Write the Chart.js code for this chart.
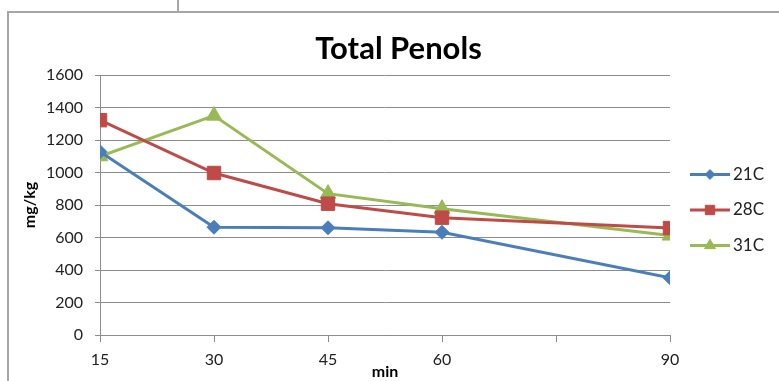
<!DOCTYPE html>
<html>
<head>
<meta charset="utf-8">
<script src="https://cdn.jsdelivr.net/npm/chart.js@4.4.1/dist/chart.umd.min.js"></script>
<style>
    body { margin: 0; background: #fff; }
    #wrap { position: relative; width: 779px; height: 381px; overflow: hidden; }
    #chart { position: absolute; left: 0; top: 0; }
    .frame { position: absolute; background: #a6a6a6; }
</style>
</head>
<body>
<div id="wrap">
    <div class="frame" style="left:7px; top:11px; width:2px; height:370px;"></div>
    <div class="frame" style="left:7px; top:11px; width:772px; height:2px;"></div>
    <div class="frame" style="left:177px; top:0; width:2px; height:12px;"></div>
    <canvas id="chart" width="779" height="381"></canvas>
</div>
<script>
// ข้อมูลที่อ่านจากกราฟ
const minutes = [15, 30, 45, 60, 90];
const seriesNames = ['21C', '28C', '31C'];
const values21 = [1128, 663, 660, 632, 352];
const values28 = [1322, 997, 808, 722, 658];
const values31 = [1100, 1350, 870, 777, 612];
const yTicks = [0, 200, 400, 600, 800, 1000, 1200, 1400, 1600];
const chartTitle = 'Total Penols';

const FONT = 'Lato, "Open Sans", sans-serif';

function toPoints(vals) {
    return minutes.map((m, i) => ({ x: m, y: vals[i] }));
}

// ชื่อกราฟ วางกลางทั้งภาพ (ไม่ใช่กลาง chart area)
const centerTitle = {
    id: 'centerTitle',
    afterDraw(chart) {
        const { ctx, width } = chart;
        ctx.save();
        ctx.fillStyle = '#000';
        ctx.font = 'bold 31px ' + FONT;
        ctx.textAlign = 'center';
        ctx.textBaseline = 'alphabetic';
        ctx.fillText(chartTitle, width / 2 + 9, 59);
        ctx.restore();
    }
};

// legend แบบ Excel: เส้น + marker
const lineLegend = {
    id: 'lineLegend',
    afterDraw(chart) {
        const { ctx, chartArea } = chart;
        const x0 = chartArea.right + 20;
        const x1 = x0 + 40;
        const midY = (chartArea.top + chartArea.bottom) / 2 + 5;
        ctx.save();
        chart.data.datasets.forEach((ds, i) => {
            const y = midY + (i - 1) * 35.5;
            ctx.strokeStyle = ds.borderColor;
            ctx.lineWidth = 3;
            ctx.beginPath();
            ctx.moveTo(x0, y);
            ctx.lineTo(x1, y);
            ctx.stroke();
            ctx.fillStyle = ds.backgroundColor;
            ctx.strokeStyle = ds.borderColor;
            ctx.lineWidth = 1;
            Chart.helpers.drawPoint(ctx, {
                pointStyle: ds.pointStyle,
                radius: ds.pointRadius * 0.7,
                rotation: 0,
                borderWidth: 1
            }, (x0 + x1) / 2, y);
            ctx.fillStyle = '#222';
            ctx.font = '17px ' + FONT;
            ctx.textAlign = 'left';
            ctx.textBaseline = 'middle';
            ctx.fillText(ds.label, x1 + 3, y);
        });
        ctx.restore();
    }
};

const colors = ['#4A7EBB', '#BE4B48', '#98B954'];
const styles = ['rectRot', 'rect', 'triangle'];
const radii = [7, 9.5, 9];
const allValues = [values21, values28, values31];

const ctx = document.getElementById('chart').getContext('2d');

new Chart(ctx, {
    type: 'line',
    data: {
        datasets: seriesNames.map((name, i) => ({
            label: name,
            data: toPoints(allValues[i]),
            borderColor: colors[i],
            backgroundColor: colors[i],
            borderWidth: 3,
            pointStyle: styles[i],
            pointRadius: radii[i],
            pointBorderWidth: 1,
            tension: 0
        }))
    },
    options: {
        responsive: false,
        animation: false,
        layout: { padding: { left: 0, right: 109, top: 75, bottom: 0 } },
        plugins: {
            legend: { display: false },
            tooltip: { enabled: false },
            title: { display: false }
        },
        scales: {
            x: {
                type: 'linear',
                min: 15,
                max: 90,
                afterFit: (scale) => { scale.height = 46; },
                afterBuildTicks: (scale) => {
                    const t = [];
                    for (let v = 15; v <= 90; v += 15) t.push({ value: v });
                    scale.ticks = t;
                },
                ticks: {
                    color: '#222',
                    font: { family: FONT, size: 16 },
                    padding: 8,
                    maxRotation: 0,
                    autoSkip: false,
                    callback: (v) => minutes.includes(v) ? String(v) : ''
                },
                grid: {
                    drawOnChartArea: false,
                    drawTicks: true,
                    tickLength: 7,
                    color: '#8c8c8c'
                },
                border: { color: '#8c8c8c', width: 1 },
                title: {
                    display: true,
                    text: 'min',
                    color: '#000',
                    font: { family: FONT, size: 16, weight: 'bold' },
                    padding: { top: 0, bottom: 0 }
                }
            },
            y: {
                min: 0,
                max: 1600,
                afterFit: (scale) => { scale.width = 100; },
                afterBuildTicks: (scale) => {
                    scale.ticks = yTicks.map(v => ({ value: v }));
                },
                ticks: {
                    color: '#222',
                    font: { family: FONT, size: 16 },
                    padding: 12,
                    callback: (v) => String(v)
                },
                grid: {
                    color: '#8c8c8c',
                    tickLength: 5
                },
                border: { color: '#8c8c8c', width: 1 },
                title: {
                    display: true,
                    text: 'mg/kg',
                    color: '#000',
                    font: { family: FONT, size: 16, weight: 'bold' },
                    padding: { top: 20, bottom: 0 }
                }
            }
        }
    },
    plugins: [centerTitle, lineLegend]
});
</script>
</body>
</html>
